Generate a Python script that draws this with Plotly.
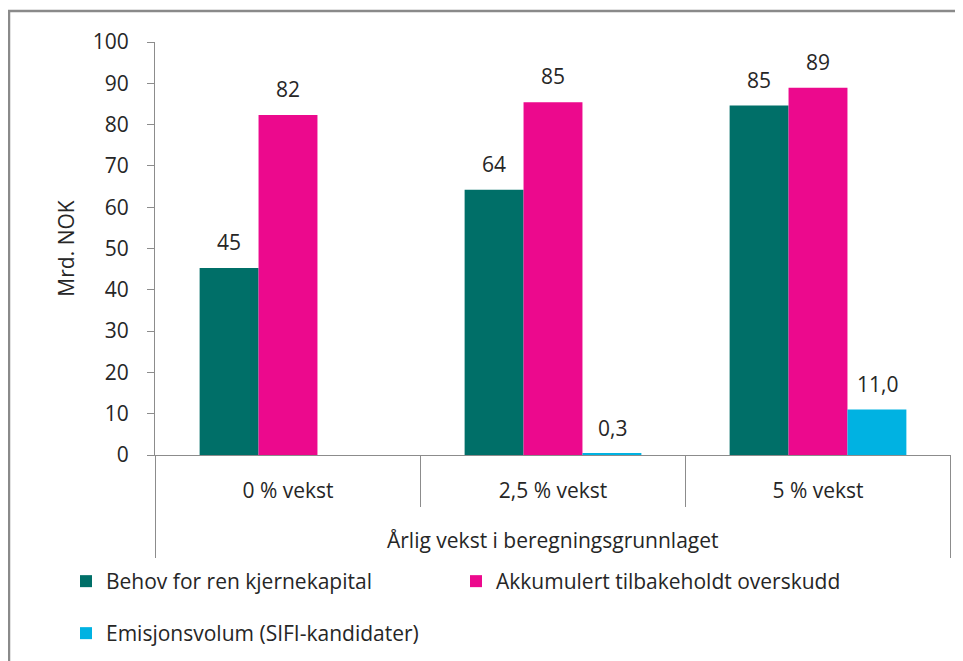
import plotly.graph_objects as go

categories = ["0 % vekst", "2,5 % vekst", "5 % vekst"]
behov = [45.3, 64.2, 84.6]
akkumulert = [82.3, 85.4, 88.9]
emisjon = [0.0, 0.3, 11.0]

behov_labels = ["45", "64", "85"]
akkumulert_labels = ["82", "85", "89"]
emisjon_labels = ["", "0,3", "11,0"]

FONT = "Open Sans"
FS = 21
TXT = "#262626"
GRID = "#8c8c8c"

series = [
    ("Behov for ren kjernekapital", behov, behov_labels, "#006f68", "legend"),
    ("Akkumulert tilbakeholdt overskudd", akkumulert, akkumulert_labels, "#ec098d", "legend"),
    ("Emisjonsvolum (SIFI-kandidater)", emisjon, emisjon_labels, "#00b2e2", "legend2"),
]

fig = go.Figure()
for name, vals, labs, col, leg in series:
    fig.add_trace(go.Bar(x=categories, y=vals, name=name, marker_color=col,
                         marker_line_width=0, legend=leg))

# data labels, placed above each bar
bar_px = 59
for i, (name, vals, labs, col, leg) in enumerate(series):
    for cat, v, lab in zip(categories, vals, labs):
        if lab == "":
            continue
        fig.add_annotation(x=cat, y=v, text=lab, showarrow=False,
                           xshift=(i - 1) * bar_px, yshift=26, yanchor="middle",
                           font=dict(family=FONT, size=FS, color=TXT))

fig.add_annotation(text="Årlig vekst i beregningsgrunnlaget", xref="paper", yref="paper",
                   x=0.5, y=-85 / 413, showarrow=False, yanchor="middle",
                   font=dict(family=FONT, size=FS, color=TXT))

# category separators below the axis
for b, ln in [(-0.5, 103), (0.5, 52), (1.5, 52), (2.5, 103)]:
    fig.add_shape(type="line", xref="x", yref="paper", x0=b, x1=b, y0=0, y1=-ln / 413,
                  line=dict(color=GRID, width=1))

# outer frame
fig.add_shape(type="rect", xref="paper", yref="paper",
              x0=(9 - 155) / 796, x1=1.05, y0=-0.7, y1=(455 - 11) / 413,
              line=dict(color="#8a8a8a", width=2.5))

# page body adds 8px margin, so the figure is 8px smaller than the window
fig.update_layout(
    width=955, height=653,
    margin=dict(l=147, r=12, t=34, b=206, autoexpand=False),
    paper_bgcolor="white", plot_bgcolor="white",
    barmode="group", bargap=0.333, bargroupgap=0,
    font=dict(family=FONT, size=FS, color=TXT),
    xaxis=dict(showline=True, linecolor=GRID, linewidth=1, ticks="",
               tickfont=dict(family=FONT, size=FS, color=TXT), ticklabelstandoff=17),
    yaxis=dict(range=[0, 100], dtick=10, showgrid=False, zeroline=False,
               showline=True, linecolor=GRID, linewidth=1, ticks="outside",
               ticklen=7, tickcolor=GRID, ticklabelstandoff=14,
               tickfont=dict(family=FONT, size=FS, color=TXT),
               title=dict(text="Mrd. NOK", font=dict(family=FONT, size=FS, color=TXT), standoff=12)),
    legend=dict(orientation="h", x=(66 - 155) / 796, xanchor="left",
                y=(455 - 561) / 413, yanchor="top", entrywidth=345,
                font=dict(family=FONT, size=FS, color=TXT), bgcolor="rgba(0,0,0,0)"),
    legend2=dict(orientation="h", x=(66 - 155) / 796, xanchor="left",
                 y=(455 - 613) / 413, yanchor="top",
                 font=dict(family=FONT, size=FS, color=TXT), bgcolor="rgba(0,0,0,0)"),
)

fig.write_html("out.html")
